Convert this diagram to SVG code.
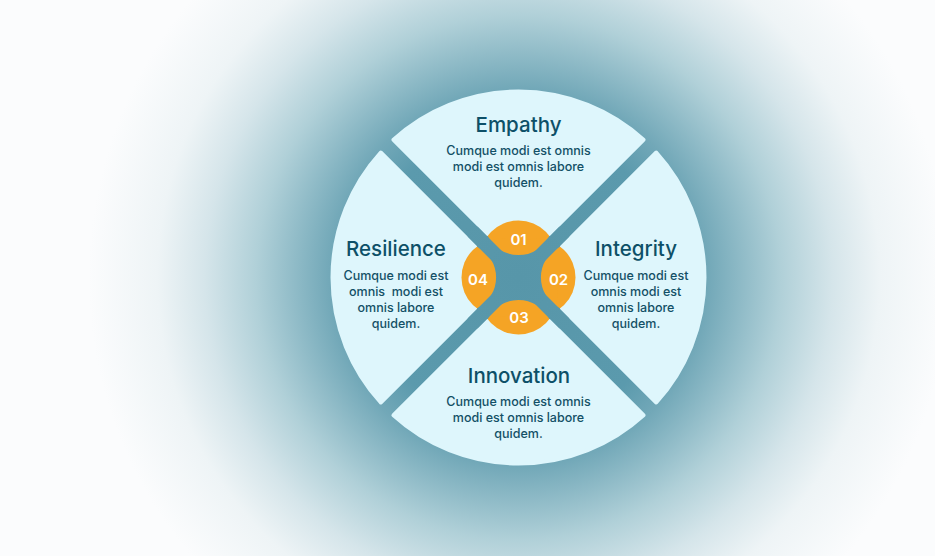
<svg xmlns="http://www.w3.org/2000/svg" width="935" height="556" viewBox="0 0 935 556">
  <defs>
    <radialGradient id="bg" gradientUnits="userSpaceOnUse" cx="518.5" cy="277.5" r="430">
      <stop offset="0" stop-color="#5796a9"/>
      <stop offset="0.35" stop-color="#5b9aad"/>
      <stop offset="0.44" stop-color="#72a8b8"/>
      <stop offset="0.61" stop-color="#b0d0d8"/>
      <stop offset="0.73" stop-color="#d5e5ea"/>
      <stop offset="0.84" stop-color="#eef4f6"/>
      <stop offset="1" stop-color="#fbfcfd"/>
    </radialGradient>
    <path id="wedge" d="M518.5 264.77 L393.5 139.77 A186 186 0 0 1 643.5 139.77 Z"/>
  </defs>
  <style>
    .wedge { fill: #def6fc; stroke: #def6fc; stroke-width: 4; stroke-linejoin: round; }
    .title { font-family: Inter, "Liberation Sans", sans-serif; font-size: 20.5px; font-weight: 500; fill: #0d5068; text-anchor: middle; }
    .body { font-family: Inter, "Liberation Sans", sans-serif; font-size: 12.5px; font-weight: 500; fill: #135066; text-anchor: middle; white-space: pre; }
    .petal { fill: #f5a425; }
    .num { font-family: Inter, "Liberation Sans", sans-serif; font-size: 15px; font-weight: 600; fill: #ffffff; text-anchor: middle; }
    .teal { fill: url(#bg); }
  </style>

  <rect x="0" y="0" width="935" height="556" fill="url(#bg)"/>

  <g id="empathy">
    <use href="#wedge" class="wedge"/>
    <text class="title" x="518.5" y="132">Empathy</text>
    <text class="body" x="518.5" y="155">Cumque modi est omnis</text>
    <text class="body" x="518.5" y="171">modi est omnis labore</text>
    <text class="body" x="518.5" y="187">quidem.</text>
  </g>

  <g id="integrity">
    <use href="#wedge" class="wedge" transform="rotate(90 518.5 277.5)"/>
    <text class="title" x="636" y="256">Integrity</text>
    <text class="body" x="636" y="280">Cumque modi est</text>
    <text class="body" x="636" y="296">omnis modi est</text>
    <text class="body" x="636" y="312">omnis labore</text>
    <text class="body" x="636" y="328">quidem.</text>
  </g>

  <g id="innovation">
    <use href="#wedge" class="wedge" transform="rotate(180 518.5 277.5)"/>
    <text class="title" x="519" y="383">Innovation</text>
    <text class="body" x="518.5" y="406">Cumque modi est omnis</text>
    <text class="body" x="518.5" y="422">modi est omnis labore</text>
    <text class="body" x="518.5" y="438">quidem.</text>
  </g>

  <g id="resilience">
    <use href="#wedge" class="wedge" transform="rotate(270 518.5 277.5)"/>
    <text class="title" x="396" y="256">Resilience</text>
    <text class="body" x="396" y="280">Cumque modi est</text>
    <text class="body" x="396" y="296">omnis  modi est</text>
    <text class="body" x="396" y="312">omnis labore</text>
    <text class="body" x="396" y="328">quidem.</text>
  </g>

  <g id="hub">
    <circle class="petal" cx="518.5" cy="259.5" r="39"/>
    <circle class="petal" cx="536.5" cy="277.5" r="39"/>
    <circle class="petal" cx="518.5" cy="295.5" r="39"/>
    <circle class="petal" cx="500.5" cy="277.5" r="39"/>
    <path class="teal" d="M487.5 235.85 A34.6 34.6 0 0 0 549.5 235.85 L560.15 246.5 A34.6 34.6 0 0 0 560.15 308.5 L549.5 319.15 A34.6 34.6 0 0 0 487.5 319.15 L476.85 308.5 A34.6 34.6 0 0 0 476.85 246.5 Z"/>
    <rect class="teal" x="453.5" y="270.5" width="130" height="14" transform="rotate(45 518.5 277.5)"/>
    <rect class="teal" x="453.5" y="270.5" width="130" height="14" transform="rotate(-45 518.5 277.5)"/>
  </g>

  <g id="n01"><text class="num" x="518.5" y="245">01</text></g>
  <g id="n02"><text class="num" x="558.5" y="284.5">02</text></g>
  <g id="n03"><text class="num" x="519" y="323">03</text></g>
  <g id="n04"><text class="num" x="478" y="284.5">04</text></g>
</svg>
